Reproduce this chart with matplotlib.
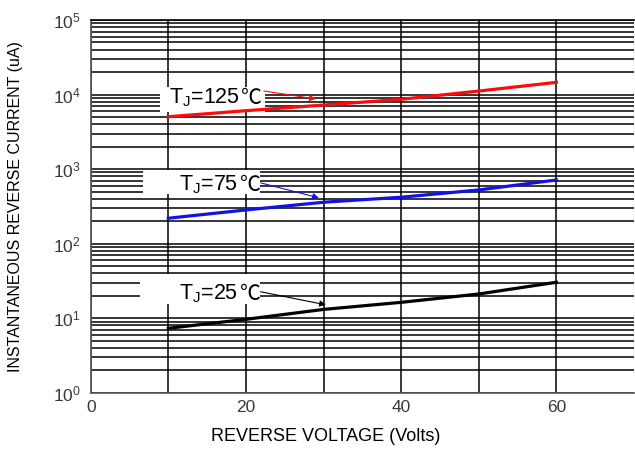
import matplotlib
matplotlib.use("Agg")
import matplotlib.pyplot as plt
from matplotlib.patches import Rectangle
from matplotlib.ticker import LogLocator, FixedLocator, NullFormatter

plt.rcParams['font.family'] = ['Liberation Sans', 'DejaVu Sans']
plt.rcParams['mathtext.default'] = 'regular'

# ─── DATOS ─────────────────────────────────────────────────────────────────
voltaje = [10, 20, 30, 40, 50, 60]
i_125 = [5040, 6070, 7230, 8630, 11140, 14580]
i_75 = [219, 283, 359, 419, 525, 714]
i_25 = [7.31, 9.65, 13.1, 16.3, 21.1, 30.3]

etiquetas = ["125", "75", "25"]
colores = ["#ff0a0a", "#1212e6", "#000000"]
# posición del texto y punta de flecha (x, y en unidades de datos)
pos_texto = [(14.6, 9000), (15.2, 614), (15.2, 21.2)]
flecha_ini = [(22.3, 11170), (21.9, 653), (21.9, 22.6)]
flecha_fin = [(29.0, 8730), (29.4, 411), (30.3, 15.1)]
# cajas blancas que tapan la cuadrícula (pixeles de la figura: x0, x1, y0, y1)
cajas = [(160, 265, 87, 112), (143, 260, 170, 194), (140, 260, 274, 304)]

W, H = 635, 450
fig = plt.figure(figsize=(W / 100, H / 100), dpi=100)
ax = fig.add_axes([90.7 / W, 1 - 392.7 / H, (634 - 90.7) / W, (392.7 - 20) / H])

ax.set_yscale("log")
ax.set_xlim(0, 70)
ax.set_ylim(1, 1e5)

ax.xaxis.set_major_locator(FixedLocator([0, 20, 40, 60]))
ax.xaxis.set_minor_locator(FixedLocator([10, 30, 50]))
ax.yaxis.set_major_locator(LogLocator(base=10, numticks=10))
ax.yaxis.set_minor_locator(LogLocator(base=10, subs=range(2, 10), numticks=20))
ax.yaxis.set_minor_formatter(NullFormatter())

ax.grid(True, which="both", color="black", linewidth=1.1, zorder=1)
ax.set_axisbelow(True)
ax.tick_params(which="both", length=0)
ax.tick_params(axis="y", pad=7, labelsize=12.5, labelcolor="#3a3a3a")
ax.tick_params(axis="x", pad=5, labelsize=12.5, labelcolor="#3a3a3a")

for lado in ["left", "bottom"]:
    ax.spines[lado].set_color("#555555")
    ax.spines[lado].set_linewidth(1.2)
ax.spines["top"].set_color("black")
ax.spines["top"].set_linewidth(1.2)
ax.spines["right"].set_visible(False)

# curvas
for serie, c in zip([i_125, i_75, i_25], colores):
    ax.plot(voltaje, serie, color=c, linewidth=2.3, zorder=4)

# cajas blancas
for x0, x1, y0, y1 in cajas:
    ax.add_patch(Rectangle((x0 / W, 1 - y1 / H), (x1 - x0) / W, (y1 - y0) / H,
                           transform=fig.transFigure, facecolor="white",
                           edgecolor="none", zorder=3))

# etiquetas y flechas
for et, c, pt, fi, ff in zip(etiquetas, colores, pos_texto, flecha_ini, flecha_fin):
    t1 = ax.text(pt[0], pt[1], r"T$_{J}$=" + et, fontsize=15.5, ha="center",
                 va="center", zorder=6)
    ax.annotate("℃", xy=(1, 0), xycoords=t1, xytext=(1, 0),
                textcoords="offset points", fontsize=15, ha="left", va="bottom",
                family=["Noto Sans CJK SC", "DejaVu Sans"], zorder=6)
    ax.annotate("", xy=ff, xytext=fi, zorder=6,
                arrowprops=dict(arrowstyle="-|>", color=c, lw=0.8,
                                mutation_scale=9, shrinkA=0, shrinkB=0))

ax.set_xlabel("REVERSE VOLTAGE (Volts)", fontsize=13)
ax.xaxis.set_label_coords(0.433, -0.095)
ax.set_ylabel("INSTANTANEOUS REVERSE CURRENT (uA)", fontsize=11.5)
ax.yaxis.set_label_coords(-0.124, 0.5)

fig.savefig("out.png", dpi=100)
